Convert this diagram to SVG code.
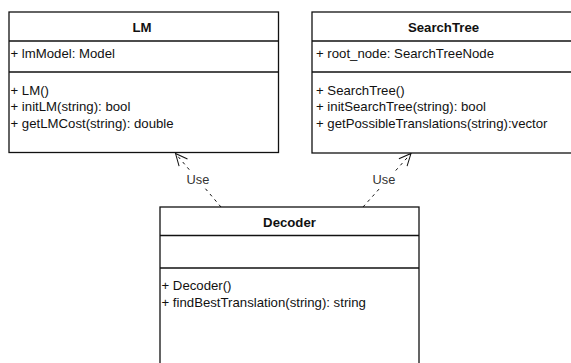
<svg xmlns="http://www.w3.org/2000/svg" width="571" height="363" viewBox="0 0 571 363">
<defs>
<style>
.box{fill:#fff;stroke:#111;stroke-width:1.3}
.sep{stroke:#111;stroke-width:1.3}
.t{font-family:"Liberation Sans",Arial,sans-serif;font-size:13.2px;fill:#111}
.b{font-weight:bold;text-anchor:middle}
.dep{stroke:#111;stroke-width:1;stroke-dasharray:3,4;fill:none}
.lbl{font-family:"Liberation Sans",Arial,sans-serif;font-size:12.8px;fill:#333;text-anchor:middle}
</style>
<marker id="open" viewBox="0 0 14 14" refX="13" refY="7" markerWidth="14" markerHeight="14" markerUnits="userSpaceOnUse" orient="auto">
<path d="M1,1.5 L13,7 L1,12.5" fill="none" stroke="#111" stroke-width="1"/>
</marker>
</defs>
<rect width="571" height="363" fill="#fff"/>
<g id="connectors">
<path class="dep" d="M221,207 L175.5,153.5" marker-end="url(#open)"/>
<path class="dep" d="M363,207 L411,153.5" marker-end="url(#open)"/>
<rect x="185" y="172" width="26" height="15" fill="#fff"/>
<text class="lbl" x="198" y="184">Use</text>
<rect x="371" y="172" width="26" height="15" fill="#fff"/>
<text class="lbl" x="384" y="184">Use</text>
</g>
<g id="LM">
<rect class="box" x="9" y="12" width="269.5" height="140.5"/>
<line class="sep" x1="9" y1="41" x2="278.5" y2="41"/>
<line class="sep" x1="9" y1="72" x2="278.5" y2="72"/>
<text class="t b" x="142" y="31.5">LM</text>
<text class="t" x="10.5" y="57.5">+ lmModel: Model</text>
<text class="t" x="10.5" y="94.5">+ LM()</text>
<text class="t" x="10.5" y="111">+ initLM(string): bool</text>
<text class="t" x="10.5" y="127.5">+ getLMCost(string): double</text>
</g>
<g id="SearchTree">
<rect class="box" x="312" y="12" width="270" height="141"/>
<line class="sep" x1="312" y1="41" x2="582" y2="41"/>
<line class="sep" x1="312" y1="72" x2="582" y2="72"/>
<text class="t b" x="443.5" y="31.5">SearchTree</text>
<text class="t" x="316" y="57.5">+ root_node: SearchTreeNode</text>
<text class="t" x="316" y="94.5">+ SearchTree()</text>
<text class="t" x="316" y="111">+ initSearchTree(string): bool</text>
<text class="t" x="316" y="127.5">+ getPossibleTranslations(string):vector</text>
</g>
<g id="Decoder">
<rect class="box" x="160" y="207" width="259" height="170"/>
<line class="sep" x1="160" y1="235.5" x2="419" y2="235.5"/>
<line class="sep" x1="160" y1="268" x2="419" y2="268"/>
<text class="t b" x="289.5" y="226.5">Decoder</text>
<text class="t" x="161.5" y="290">+ Decoder()</text>
<text class="t" x="161.5" y="307">+ findBestTranslation(string): string</text>
</g>
</svg>
